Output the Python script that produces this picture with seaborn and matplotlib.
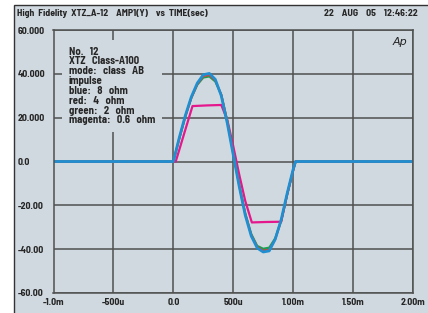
import matplotlib
matplotlib.use("Agg")
import pandas as pd
import matplotlib.pyplot as plt
import seaborn as sns
from matplotlib.patches import Rectangle

# time axis in ms
time_ms = [-1.0, 0.0, 0.05, 0.10, 0.15, 0.20, 0.25, 0.30, 0.35, 0.40, 0.45, 0.50,
           0.55, 0.60, 0.65, 0.70, 0.75, 0.80, 0.85, 0.90, 0.95, 1.00, 1.02, 2.0]
blue_8ohm = [0, 0, 11, 21, 29.5, 35.8, 39.6, 40.2, 37.5, 30, 17.5, 3,
             -11.5, -24.5, -34, -39.5, -41.3, -40.8, -35.5, -26.5, -14.5, -3.5, 0, 0]
red_4ohm = [0, 0, 10.5, 20.5, 29, 35.3, 39, 39.5, 37, 30.5, 18.5, 3.5,
            -11, -24, -33.5, -39, -40.8, -40.3, -35.5, -27, -15, -4, 0, 0]
green_2ohm = [0, 0, 10.5, 20.5, 29, 35, 38.3, 38.8, 36.5, 30.5, 18.5, 4,
              -10.5, -23.5, -33, -38.5, -39.8, -39.3, -35, -27, -15, -4, 0, 0]

time_mag = [-1.0, 0.02, 0.05, 0.10, 0.16, 0.28, 0.40, 0.45, 0.50, 0.55, 0.60,
            0.655, 0.78, 0.90, 0.95, 1.00, 1.02, 2.0]
magenta_06ohm = [0, 0, 5.4, 14.5, 25.3, 25.6, 25.8, 19, 7, -6, -18,
                 -27.8, -27.6, -27.5, -15, -4, 0, 0]

x_ticks = [-1.0, -0.5, 0.0, 0.5, 1.0, 1.5, 2.0]
x_labels = ["-1.0m", "-500u", "0.0", "500u", "1.00m", "1.50m", "2.00m"]
y_ticks = [-60, -40, -20, 0, 20, 40, 60]
y_labels = ["-60.00", "-40.00", "-20.00", "0.0", "20.000", "40.000", "60.000"]

info = ["No.   12", "XTZ   Class-A100", "mode:   class   AB", "impulse",
        "blue:   8   ohm", "red:   4   ohm", "green:   2   ohm", "magenta:   0.6   ohm"]

bg = "#d0d9df"
gridc = "#505050"

sns.set_style("whitegrid", {"axes.facecolor": bg, "grid.color": gridc,
                            "axes.edgecolor": gridc})
# narrow bold face, falls back to DejaVu if missing
plt.rcParams["font.family"] = ["Barlow Semi Condensed", "DejaVu Sans"]
plt.rcParams["font.weight"] = "bold"

fig = plt.figure(figsize=(4.28, 3.13), dpi=100)
fig.patch.set_facecolor("white")
fig.patches.append(Rectangle((14.5 / 428, -0.05), 1.1, (313 - 4.5) / 313 + 0.05,
                             transform=fig.transFigure, facecolor=bg,
                             edgecolor="#333333", lw=1.0, zorder=-10))

ax = fig.add_axes([0.125, 0.064, 0.84, 0.84])

df = pd.DataFrame({"t": time_ms, "blue": blue_8ohm, "red": red_4ohm, "green": green_2ohm})
dm = pd.DataFrame({"t": time_mag, "magenta": magenta_06ohm})

sns.lineplot(data=dm, x="t", y="magenta", color="#e5178c", lw=1.6, estimator=None, ax=ax)
sns.lineplot(data=df, x="t", y="green", color="#1aa050", lw=1.5, estimator=None, ax=ax)
sns.lineplot(data=df, x="t", y="red", color="#e03a3a", lw=1.5, estimator=None, ax=ax)
sns.lineplot(data=df, x="t", y="blue", color="#1f8fd2", lw=2.0, estimator=None, ax=ax)

ax.set_xlim(-1.0, 2.0)
ax.set_ylim(-60, 60)
ax.set_xticks(x_ticks)
ax.set_xticklabels(x_labels)
ax.set_yticks(y_ticks)
ax.set_yticklabels(y_labels)
ax.set_xlabel("")
ax.set_ylabel("")
ax.grid(True, color=gridc, lw=1.1)
ax.tick_params(axis="both", length=0, labelsize=7)
ax.tick_params(axis="x", pad=3.5)
ax.tick_params(axis="y", pad=25.5)
for lab in ax.get_yticklabels():
    lab.set_horizontalalignment("left")
for s in ax.spines.values():
    s.set_color(gridc)
    s.set_linewidth(1.1)

ax.text(0.042, 0.937, "\n".join(info), transform=ax.transAxes, ha="left", va="top",
        fontsize=7.7, linespacing=0.98, zorder=5,
        bbox=dict(facecolor=bg, edgecolor="none", pad=5))
ax.text(0.985, 0.975, "Ap", transform=ax.transAxes, ha="right", va="top",
        fontsize=8, style="italic", fontweight="normal", color="#222222",
        family=["DejaVu Sans"])

fig.text(17 / 428, 1 - 14 / 313, "High  Fidelity  XTZ_A-12    AMP1(Y)    vs  TIME(sec)",
         ha="left", va="center", fontsize=7)
fig.text(418 / 428, 1 - 14 / 313, "22    AUG    05    12:46:22",
         ha="right", va="center", fontsize=7)

fig.savefig("out.png", dpi=100)
